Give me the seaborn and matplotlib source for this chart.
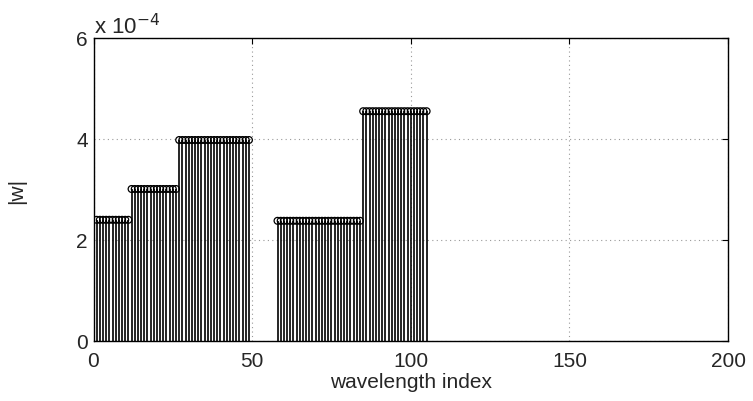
import matplotlib
matplotlib.use("Agg")
import matplotlib.pyplot as plt
import seaborn as sns
import pandas as pd

# blocks of wavelength indices with a constant |w|
block_first = [1, 12, 27, 58, 85]
block_last = [11, 26, 49, 84, 105]
block_value = [2.40e-4, 3.01e-4, 3.98e-4, 2.38e-4, 4.55e-4]

x_ticks = [0, 50, 100, 150, 200]
y_ticks = [0, 2e-4, 4e-4, 6e-4]

rows = []
for a, b, v in zip(block_first, block_last, block_value):
    for i in range(a, b + 1):
        rows.append({"idx": i, "w": v})
df = pd.DataFrame(rows)

sns.set_style("white")
plt.rcParams["font.family"] = ["Liberation Sans", "DejaVu Sans"]
font_size = 15

fig = plt.figure(figsize=(7.53, 4.02), dpi=100)
ax = fig.add_axes([93.5 / 753, 60 / 402, 634.5 / 753, 303 / 402])

# stems, MATLAB style (open circles)
ax.vlines(df["idx"], 0, df["w"], color="black", linewidth=1.2, zorder=2)
sns.scatterplot(
    data=df, x="idx", y="w", ax=ax, marker="o", s=24,
    facecolor="none", edgecolor="black", linewidth=0.9, zorder=3,
)

ax.set_xlim(0, 200)
ax.set_ylim(0, 6e-4)
ax.set_xticks(x_ticks)
ax.set_yticks(y_ticks)
ax.set_yticklabels(["%g" % (t / 1e-4) for t in y_ticks])
ax.grid(True, linestyle=(0, (1, 3)), color="#999999", linewidth=0.8)
ax.tick_params(direction="in", length=4, labelsize=font_size, top=True, right=True,
               color="black", width=0.8)
ax.tick_params(axis="x", pad=7)
ax.tick_params(axis="y", pad=4)
for s in ax.spines.values():
    s.set_color("black")
    s.set_linewidth(1.0)
ax.set_xlabel("wavelength index", fontsize=font_size, labelpad=2)
ax.set_ylabel("|w|", fontsize=font_size, labelpad=36)
ax.text(0.0, 1.0, r"x 10$^{-4}$", transform=ax.transAxes, fontsize=16,
        ha="left", va="bottom")

fig.savefig("out.png", dpi=100)
